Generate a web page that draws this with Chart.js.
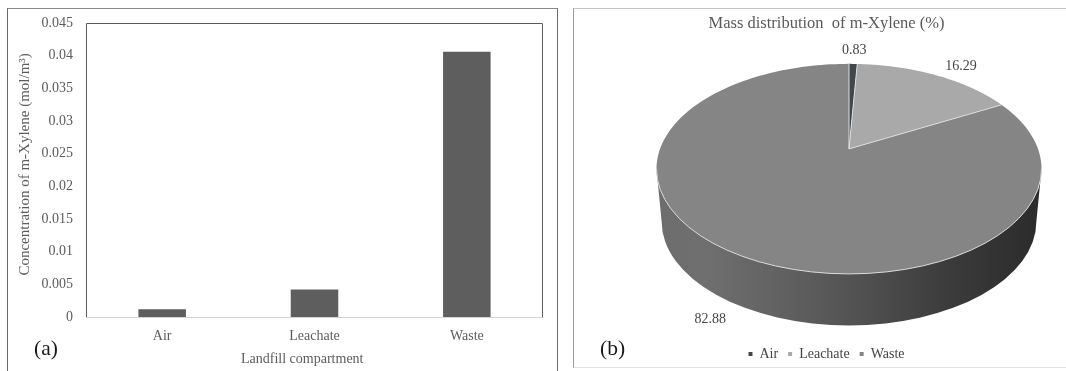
<!DOCTYPE html>
<html><head><meta charset="utf-8">
<script src="https://cdn.jsdelivr.net/npm/chart.js@4"></script>
<style>
html,body{margin:0;padding:0;background:#fff;overflow:hidden}
#stage{position:relative;width:1066px;height:371px;overflow:hidden;font-family:"Liberation Serif",serif}
.panel{position:absolute;box-sizing:border-box}
#pa{left:7px;top:8px;width:551px;height:370px;border:1px solid #6a6a6a;border-top-color:#8a8a8a}
#pb{left:573px;top:8px;width:500px;height:360px;border:1px solid #c4c4c4;border-left-color:#9a9a9a;border-bottom-color:#e2e2e2}
canvas{position:absolute;display:block}
#ca{left:0;top:0;filter:blur(.3px)}
#cb{left:580px;top:0;filter:blur(.55px)}
.tag{position:absolute;font-size:21.5px;color:#1a1a1a;line-height:24px}
</style></head><body>
<div id="stage">
<div class="panel" id="pa"></div><div class="panel" id="pb"></div>
<canvas id="ca" width="560" height="371" style="width:560px;height:371px"></canvas>
<canvas id="cb" width="493" height="371" style="width:493px;height:371px"></canvas>
<div class="tag" style="left:34px;top:336px">(a)</div>
<div class="tag" style="left:600px;top:336px">(b)</div>
</div>
<script>
const compartments = ["Air", "Leachate", "Waste"];
const concentration = [0.0012, 0.0042, 0.0406];
const massLabels = ["Air", "Leachate", "Waste"];
const massShare = [0.83, 16.29, 82.88];
const massColors = ["#41484d", "#a9a9a9", "#858585"];

const SERIF = "'Liberation Serif', serif";
const TXT = "#5c5c5c";
Chart.defaults.animation = false;
Chart.defaults.font.family = SERIF;

const frame = {
  id: "frame",
  afterDraw(c) {
    const a = c.chartArea, x = c.ctx;
    x.save(); x.strokeStyle = "#5a5a5a"; x.lineWidth = 1;
    x.beginPath();
    x.moveTo(Math.round(a.left)+.5, Math.round(a.bottom));
    x.lineTo(Math.round(a.left)+.5, Math.round(a.top)+.5);
    x.lineTo(Math.round(a.right)-.5, Math.round(a.top)+.5);
    x.lineTo(Math.round(a.right)-.5, Math.round(a.bottom));
    x.stroke(); x.restore();
  }
};

new Chart(document.getElementById("ca"), {
  type: "bar",
  plugins: [frame],
  data: { labels: compartments, datasets: [{ data: concentration, backgroundColor: "#5e5e5e",
    categoryPercentage: 0.312, barPercentage: 1 }] },
  options: {
    responsive: false,
    layout: { padding: { left: 16, right: 17, top: 23, bottom: 3 } },
    plugins: { legend: { display: false }, title: { display: false }, tooltip: { enabled: false } },
    scales: {
      x: {
        grid: { display: false, drawTicks: false },
        border: { color: "#d4d4d4", width: 1 },
        ticks: { color: TXT, font: { size: 14 }, padding: 11 },
        title: { display: true, text: "Landfill compartment" + "\u00A0".repeat(7), color: TXT, font: { size: 14 }, padding: { top: 6, bottom: 0 } },
        afterFit(s) { s.height = 51; }
      },
      y: {
        min: 0, max: 0.045,
        grid: { display: false, drawTicks: false },
        border: { display: false },
        ticks: { stepSize: 0.005, color: TXT, font: { size: 14 }, padding: 13,
          callback: v => String(+v.toFixed(3)) },
        title: { display: true, text: "\u00A0".repeat(3) + "Concentration of m-Xylene (mol/m³)", color: TXT, font: { size: 15 }, padding: { top: 0, bottom: 0 } },
        afterFit(s) { s.width = 70; }
      }
    }
  }
});

// 3D-look pie: the arcs' own angles, centre and radius are projected in perspective.
const persp = { tilt: 0.19, squash: 0.5354, shiftX: 22.5, shiftY: -38.5, rimX: 1.0187, rimY: 0.5556, rimDY: 0.1058,
                drop: 0.278, footX: 0.992, footY: 0.55 };
const labelNudge = [[1,-14],[25,-9],[-23,67]];
function proj(a, ang, k) {
  const ux = Math.cos(ang)*k, uy = Math.sin(ang)*k, w = 1 - persp.tilt*uy;
  return [a.x + persp.shiftX + a.outerRadius*ux/w, a.y + persp.shiftY + a.outerRadius*persp.squash*uy/w];
}
const pie3d = {
  id: "pie3d",
  beforeDatasetDraw(c, args) {
    const x = c.ctx, arcs = args.meta.data, a0 = arcs[0];
    const R = a0.outerRadius, cx = a0.x + persp.shiftX, ay = a0.y + persp.shiftY;
    const rimCy = ay + R*persp.rimDY, rx = R*persp.rimX, ry = R*persp.rimY;
    const footCy = rimCy + R*persp.drop, fx = rx*persp.footX*0.981, fy = R*persp.footY;
    x.save();
    const g = x.createLinearGradient(cx-fx, 0, cx+fx, 0);
    g.addColorStop(0, "#6d6d6d"); g.addColorStop(.12, "#6f6f6f"); g.addColorStop(.35, "#5f5f5f");
    g.addColorStop(.55, "#4f4f4f"); g.addColorStop(.78, "#3a3a3a"); g.addColorStop(1, "#2c2c2c");
    x.fillStyle = g;
    x.beginPath();
    x.moveTo(cx-rx, rimCy);
    x.lineTo(cx-fx, footCy);
    x.ellipse(cx, footCy, fx, fy, 0, Math.PI, 0, true);
    x.lineTo(cx+rx, rimCy);
    x.closePath(); x.fill();
    arcs.forEach(a => {
      x.fillStyle = a.options.backgroundColor;
      x.beginPath();
      x.moveTo(cx, ay);
      const n = 180;
      for (let i = 0; i <= n; i++) {
        const p = proj(a, a.startAngle + (a.endAngle-a.startAngle)*i/n, 1);
        x.lineTo(p[0], p[1]);
      }
      x.closePath(); x.fill();
    });
    x.strokeStyle = "#dcdcdc"; x.lineWidth = 1;
    [arcs[0].startAngle, arcs[1].startAngle].forEach(t => {
      const p = proj(a0, t, 1);
      x.beginPath(); x.moveTo(cx, ay); x.lineTo(p[0], p[1]); x.stroke();
    });
    const e = proj(a0, arcs[1].endAngle, 1);
    x.beginPath(); x.moveTo(cx, ay); x.lineTo(e[0], e[1]); x.stroke();
    x.beginPath(); x.ellipse(cx, rimCy, rx, ry, 0, 0, Math.PI); x.stroke();
    x.restore();
    return false;
  },
  afterDatasetsDraw(c) {
    const x = c.ctx, meta = c.getDatasetMeta(0);
    x.save();
    x.font = "14px " + SERIF; x.fillStyle = "#444"; x.textAlign = "center"; x.textBaseline = "middle";
    meta.data.forEach((a, i) => {
      const p = proj(a, (a.startAngle+a.endAngle)/2, 1);
      x.fillText(massShare[i].toFixed(2), p[0]+labelNudge[i][0], p[1]+labelNudge[i][1]);
    });
    x.restore();
  }
};

new Chart(document.getElementById("cb"), {
  type: "pie",
  plugins: [pie3d],
  data: { labels: massLabels, datasets: [{ data: massShare, backgroundColor: massColors, borderWidth: 0, radius: 189 }] },
  options: {
    responsive: false,
    layout: { padding: { top: 0, bottom: 0, left: 0, right: 0 } },
    plugins: {
      tooltip: { enabled: false },
      title: { display: true, text: "Mass distribution  of m-Xylene (%)", color: "#5a5a5a",
        font: { size: 16.5, weight: "normal" }, padding: { top: 14, bottom: 4 } },
      legend: { position: "bottom", labels: { color: "#444", boxWidth: 4, boxHeight: 4, padding: 10, font: { size: 14 } } }
    }
  }
});
</script>
</body></html>
